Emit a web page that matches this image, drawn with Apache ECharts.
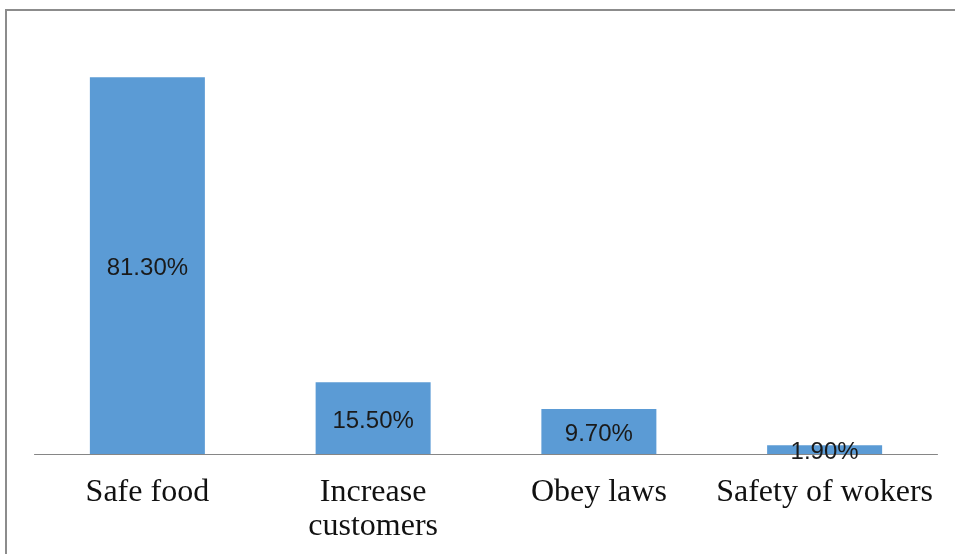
<!DOCTYPE html>
<html>
<head>
<meta charset="utf-8">
<script src="https://cdn.jsdelivr.net/npm/echarts@6/dist/echarts.min.js"></script>
<style>
  html, body { margin: 0; padding: 0; background: #fff; }
  #chart { width: 955px; height: 554px; }
</style>
</head>
<body>
<div id="chart"></div>
<script>
// Categories and their shares (percent)
const categories = ['Safe food', 'Increase\ncustomers', 'Obey laws', 'Safety of wokers'];
const shares = [81.3, 15.5, 9.7, 1.9];

const chart = echarts.init(document.getElementById('chart'), null, { renderer: 'canvas' });

chart.setOption({
  animation: false,
  backgroundColor: '#ffffff',
  grid: { left: 34.5, right: 17.5, top: 37, bottom: 100, containLabel: false },
  xAxis: {
    type: 'category',
    data: categories,
    axisLine: { show: true, lineStyle: { color: '#868686', width: 1 } },
    axisTick: { show: false },
    axisLabel: {
      interval: 0,
      margin: 22,
      fontFamily: '"Liberation Serif", "Times New Roman", serif',
      fontSize: 32,
      lineHeight: 34,
      color: '#111111'
    }
  },
  yAxis: {
    type: 'value',
    min: 0,
    max: 90,
    show: false,
    splitLine: { show: false }
  },
  series: [{
    type: 'bar',
    data: shares,
    barWidth: 115,
    itemStyle: { color: '#5b9bd5' },
    label: {
      show: true,
      position: 'inside',
      offset: [0, 3],
      formatter: p => p.value.toFixed(2) + '%',
      fontFamily: '"Liberation Sans", Arial, sans-serif',
      fontSize: 24,
      color: '#1a1a1a'
    }
  }],
  graphic: [
    { type: 'line', shape: { x1: 5, y1: 10, x2: 955, y2: 10 }, style: { stroke: '#8c8c8c', lineWidth: 2 } },
    { type: 'line', shape: { x1: 6, y1: 9, x2: 6, y2: 554 }, style: { stroke: '#8c8c8c', lineWidth: 2 } }
  ]
});
</script>
</body>
</html>
